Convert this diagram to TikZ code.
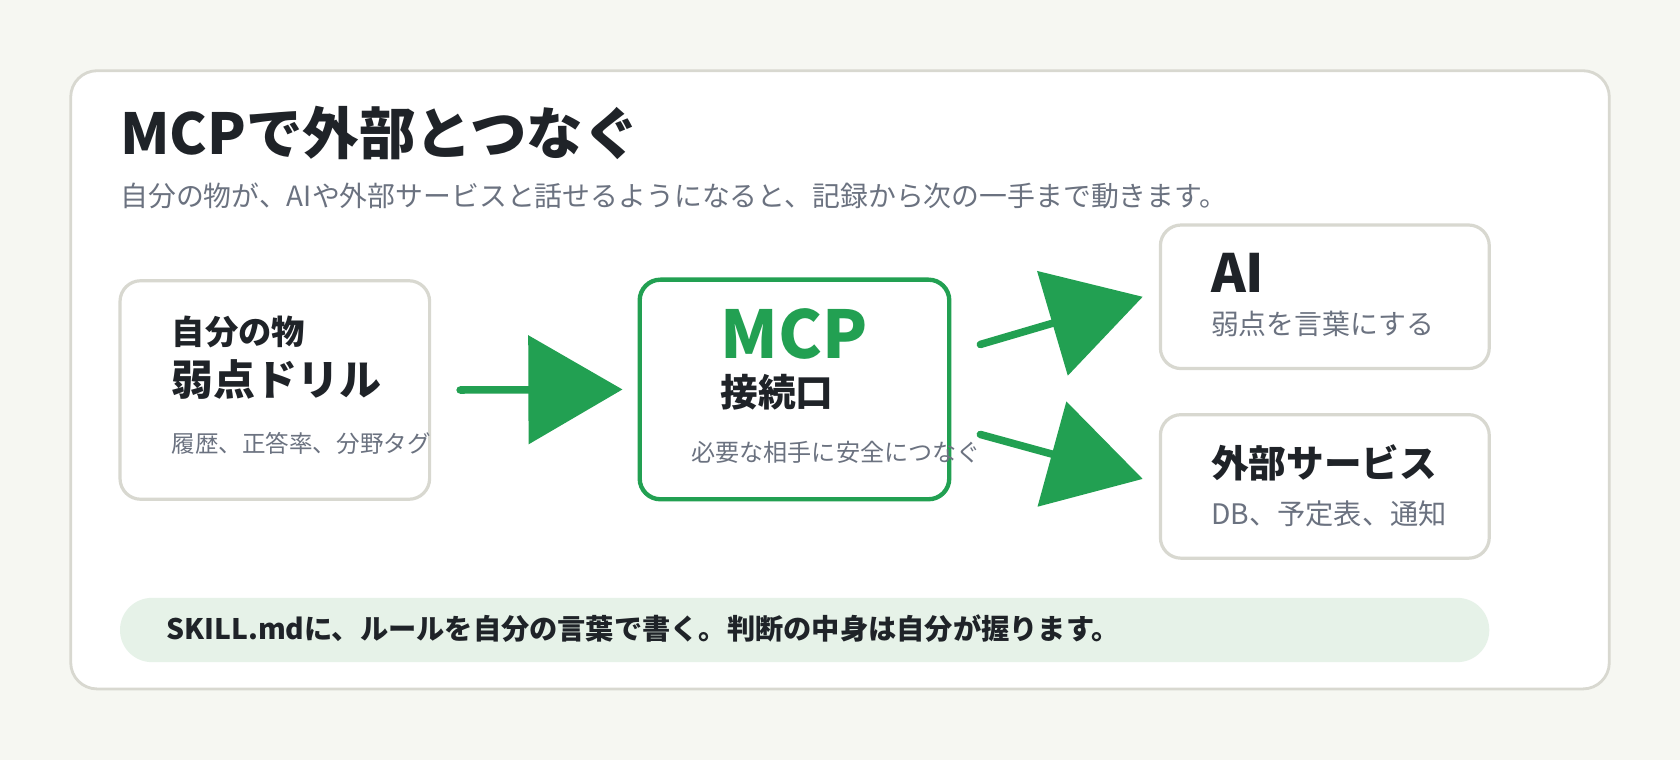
\documentclass[tikz,border=0pt]{standalone}
\usepackage{fontspec}
\setmainfont{Noto Sans CJK JP}
\usetikzlibrary{arrows.meta}
\definecolor{bgpaper}{HTML}{F6F7F2}
\definecolor{cardline}{HTML}{D8D8D0}
\definecolor{inkdark}{HTML}{1F2328}
\definecolor{inkgray}{HTML}{6B7280}
\definecolor{mcpgreen}{HTML}{22A052}
\definecolor{notefill}{HTML}{E6F2E8}
\newcommand{\fsz}[1]{\fontsize{#1}{#1}\selectfont}
\tikzset{
  card/.style={draw=cardline, line width=1.7pt, fill=white, rounded corners=11pt,
    minimum width=#1, inner sep=0pt},
  head/.style={anchor=west, text=inkdark, font=\bfseries\fsz{#1}, inner sep=0pt},
  note/.style={anchor=west, text=inkgray, font=\fsz{#1}, inner sep=0pt},
  flow/.style={draw=mcpgreen, line width=4pt, line cap=round,
    -{Triangle[length=50pt,width=57pt]}}
}
\begin{document}
\begin{tikzpicture}[x=0.02cm,y=-0.02cm]
  \fill[bgpaper] (0,0) rectangle (1568,709);
  \useasboundingbox (0,0) rectangle (1568,709);
  \draw[cardline, line width=1.5pt, fill=white, rounded corners=14pt] (66,66) rectangle (1502,643);

  % title
  \node[head=30] (title) at (112,124) {MCPで外部とつなぐ};
  \node[note=14.8] (sub) at (112,183) {自分の物が、AIや外部サービスと話せるようになると、記録から次の一手まで動きます。};

  % boxes
  \node[card=5.78cm, minimum height=4.08cm] (own) at (256.5,364) {};
  \node[card=5.78cm, minimum height=4.1cm, draw=mcpgreen, line width=2.3pt] (mcp) at (741.5,363.5) {};
  \node[card=6.14cm, minimum height=2.68cm] (ai) at (1236.5,277) {};
  \node[card=6.14cm, minimum height=2.68cm] (ext) at (1236.5,454) {};

  \node[head=17.7] (own_a) at (160,310) {自分の物};
  \node[head=22.3] (own_b) at (160,354) {弱点ドリル};
  \node[note=12.5] (own_c) at (160,414) {履歴、正答率、分野タグ};

  \node[head=35] [text=mcpgreen] (mcp_a) at (672,312) {MCP};
  \node[head=20] (mcp_b) at (672,366) {接続口};
  \node[note=12.8] (mcp_c) at (645,422) {必要な相手に安全につなぐ};

  \node[head=28] (ai_a) at (1130,255) {AI};
  \node[note=14.8] (ai_b) at (1130,302) {弱点を言葉にする};

  \node[head=20] (ext_a) at (1130,432) {外部サービス};
  \node[note=15] (ext_b) at (1130,480) {DB、予定表、通知};

  % connectors
  \draw[flow] ([xshift=27*0.02cm]own.east) -- ([xshift=-14*0.02cm]mcp.west);
  \draw[flow] ([xshift=27*0.02cm,yshift=42*0.02cm]mcp.east) -- ([xshift=-15*0.02cm]ai.west);
  \draw[flow] ([xshift=27*0.02cm,yshift=-42*0.02cm]mcp.east) -- ([xshift=-15*0.02cm,yshift=7*0.02cm]ext.west);

  % banner
  \fill[notefill, rounded corners=17pt] (112,558) rectangle (1390,618);
  \node[head=15] (rule) at (155,587) {SKILL.mdに、ルールを自分の言葉で書く。判断の中身は自分が握ります。};
\end{tikzpicture}
\end{document}
